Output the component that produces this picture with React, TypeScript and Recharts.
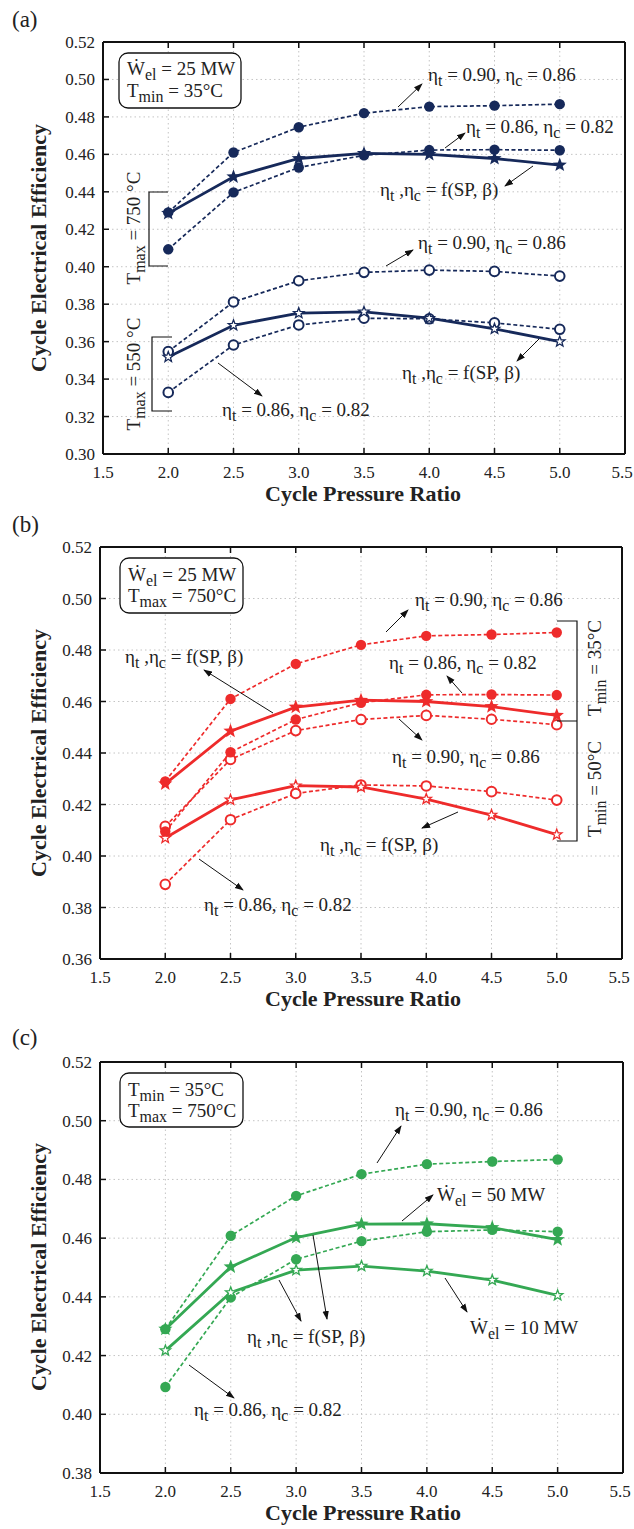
import { LineChart, Line, XAxis, YAxis, CartesianGrid } from "recharts";

document.body.style.margin = "0";

const FONT = '"Liberation Serif", "Times New Roman", Times, serif';

const pressureRatio = [2.0, 2.5, 3.0, 3.5, 4.0, 4.5, 5.0];
const xTicks = [1.5, 2.0, 2.5, 3.0, 3.5, 4.0, 4.5, 5.0, 5.5];

// (a) Tmax = 750 / 550 °C
const yTicksA = [0.3, 0.32, 0.34, 0.36, 0.38, 0.4, 0.42, 0.44, 0.46, 0.48, 0.5, 0.52];
const a750High = [0.429, 0.461, 0.4745, 0.482, 0.4855, 0.486, 0.4868];
const a750Low = [0.4093, 0.4397, 0.453, 0.4595, 0.4623, 0.4625, 0.4622];
const a750Var = [0.4285, 0.448, 0.4578, 0.4605, 0.46, 0.4578, 0.4543];
const a550High = [0.3547, 0.3812, 0.3925, 0.397, 0.3982, 0.3975, 0.395];
const a550Low = [0.3329, 0.3582, 0.3689, 0.3725, 0.3722, 0.37, 0.3666];
const a550Var = [0.3518, 0.3687, 0.3752, 0.3759, 0.3725, 0.3668, 0.36];

// (b) Tmin = 35 / 50 °C
const yTicksB = [0.36, 0.38, 0.4, 0.42, 0.44, 0.46, 0.48, 0.5, 0.52];
const b35High = [0.429, 0.461, 0.4746, 0.482, 0.4855, 0.486, 0.4868];
const b35Low = [0.4095, 0.4403, 0.453, 0.4595, 0.4626, 0.4627, 0.4625];
const b35Var = [0.428, 0.4485, 0.4578, 0.4605, 0.46, 0.458, 0.4546];
const b50High = [0.4115, 0.4375, 0.4487, 0.453, 0.4546, 0.4531, 0.451];
const b50Low = [0.389, 0.4141, 0.4243, 0.4276, 0.4272, 0.425, 0.4217];
const b50Var = [0.407, 0.4218, 0.4273, 0.4268, 0.4221, 0.4159, 0.4083];

// (c) Wel = 50 / 10 MW
const yTicksC = [0.38, 0.4, 0.42, 0.44, 0.46, 0.48, 0.5, 0.52];
const cHigh = [0.429, 0.4608, 0.4744, 0.4818, 0.4852, 0.4861, 0.4868];
const cLow = [0.4093, 0.4398, 0.4528, 0.459, 0.4622, 0.4628, 0.4622];
const c50MW = [0.429, 0.4502, 0.4602, 0.4648, 0.4649, 0.4636, 0.4595];
const c10MW = [0.4217, 0.4415, 0.4491, 0.4505, 0.4488, 0.4457, 0.4405];

const NAVY = "#16295a";
const RED = "#ee2b2b";
const GREEN = "#34a853";

type Series = { key: string; values: number[]; marker: string; dashed: boolean };

const seriesA: Series[] = [
  { key: "a550Low", values: a550Low, marker: "oc", dashed: true },
  { key: "a550High", values: a550High, marker: "oc", dashed: true },
  { key: "a550Var", values: a550Var, marker: "os", dashed: false },
  { key: "a750Low", values: a750Low, marker: "fc", dashed: true },
  { key: "a750High", values: a750High, marker: "fc", dashed: true },
  { key: "a750Var", values: a750Var, marker: "fs", dashed: false },
];
const seriesB: Series[] = [
  { key: "b50Low", values: b50Low, marker: "oc", dashed: true },
  { key: "b50High", values: b50High, marker: "oc", dashed: true },
  { key: "b50Var", values: b50Var, marker: "os", dashed: false },
  { key: "b35Low", values: b35Low, marker: "fc", dashed: true },
  { key: "b35High", values: b35High, marker: "fc", dashed: true },
  { key: "b35Var", values: b35Var, marker: "fs", dashed: false },
];
const seriesC: Series[] = [
  { key: "cLow", values: cLow, marker: "fc", dashed: true },
  { key: "cHigh", values: cHigh, marker: "fc", dashed: true },
  { key: "c10MW", values: c10MW, marker: "os", dashed: false },
  { key: "c50MW", values: c50MW, marker: "fs", dashed: false },
];

function starPath(cx: number, cy: number, r: number) {
  let d = "";
  for (let i = 0; i < 10; i++) {
    const rad = i % 2 === 0 ? r : r * 0.42;
    const a = (-90 + i * 36) * (Math.PI / 180);
    d += (i === 0 ? "M" : "L") + (cx + rad * Math.cos(a)).toFixed(2) + "," + (cy + rad * Math.sin(a)).toFixed(2);
  }
  return d + "Z";
}

function makeDot(kind: string, color: string) {
  return (p: any) => {
    const { cx, cy, index } = p;
    if (cx == null || cy == null) return <g key={index} />;
    if (kind === "fc") return <circle key={index} cx={cx} cy={cy} r={5.2} fill={color} />;
    if (kind === "oc")
      return <circle key={index} cx={cx} cy={cy} r={4.8} fill="#fff" stroke={color} strokeWidth={2} />;
    if (kind === "fs") return <path key={index} d={starPath(cx, cy, 7.5)} fill={color} />;
    return <path key={index} d={starPath(cx, cy, 5.5)} fill="#fff" stroke={color} strokeWidth={1.3} />;
  };
}

const tickText = { fontFamily: FONT, fontSize: 17, fill: "#222", style: { fontFamily: FONT } };

const bottomTick = (p: any) => {
  const v = Number(p.payload.value);
  // the last label sits on the page edge, nudge it in a little
  const tx = v >= 5.5 ? p.x - 3 : p.x;
  return (
    <g key={`b${p.index}`}>
      <line x1={p.x} y1={p.y} x2={p.x} y2={p.y - 6} stroke="#111" strokeWidth={1.5} />
      <text x={tx} y={p.y + 24} textAnchor="middle" {...tickText}>
        {v.toFixed(1)}
      </text>
    </g>
  );
};
const topTick = (p: any) => (
  <line key={`t${p.index}`} x1={p.x} y1={p.y} x2={p.x} y2={p.y + 6} stroke="#111" strokeWidth={1.5} />
);
const leftTick = (p: any) => (
  <g key={`l${p.index}`}>
    <line x1={p.x} y1={p.y} x2={p.x + 6} y2={p.y} stroke="#111" strokeWidth={1.5} />
    <text x={p.x - 8} y={p.y + 6} textAnchor="end" {...tickText}>
      {Number(p.payload.value).toFixed(2)}
    </text>
  </g>
);
const rightTick = (p: any) => (
  <line key={`r${p.index}`} x1={p.x} y1={p.y} x2={p.x - 6} y2={p.y} stroke="#111" strokeWidth={1.5} />
);

// plot box in chart coords: left, right, top, bottom
function Panel({
  top,
  series,
  yTicks,
  color,
  box,
}: {
  top: number;
  series: Series[];
  yTicks: number[];
  color: string;
  box: { l: number; r: number; t: number; b: number };
}) {
  const rows = pressureRatio.map((x, i) => {
    const r: any = { x };
    series.forEach((s) => (r[s.key] = s.values[i]));
    return r;
  });
  const W = 634;
  const H = 505;
  const margin = { top: box.t - 2, right: W - box.r - 2, bottom: H - box.b - 30, left: box.l - 60 };
  const yDomain = [yTicks[0], yTicks[yTicks.length - 1]];
  const frame = { stroke: "#111", strokeWidth: 2 };
  return (
    <div style={{ position: "absolute", left: 0, top }}>
      <LineChart width={W} height={H} data={rows} margin={margin}>
        <CartesianGrid stroke="#c4c4c4" strokeDasharray="1.5 3" />
        <XAxis
          dataKey="x"
          type="number"
          domain={[1.5, 5.5]}
          ticks={xTicks}
          interval={0}
          height={30}
          tickSize={0}
          tickMargin={0}
          tickLine={false}
          axisLine={frame}
          tick={bottomTick}
          allowDataOverflow
        />
        <XAxis
          xAxisId="top"
          orientation="top"
          dataKey="x"
          type="number"
          domain={[1.5, 5.5]}
          ticks={xTicks}
          interval={0}
          height={2}
          tickSize={0}
          tickMargin={0}
          tickLine={false}
          axisLine={frame}
          tick={topTick}
        />
        <YAxis
          type="number"
          domain={yDomain}
          ticks={yTicks}
          interval={0}
          width={60}
          tickSize={0}
          tickMargin={0}
          tickLine={false}
          axisLine={frame}
          tick={leftTick}
          allowDataOverflow
        />
        <YAxis
          yAxisId="right"
          orientation="right"
          type="number"
          domain={yDomain}
          ticks={yTicks}
          interval={0}
          width={2}
          tickSize={0}
          tickMargin={0}
          tickLine={false}
          axisLine={frame}
          tick={rightTick}
        />
        {series.map((s) => (
          <Line
            key={s.key}
            type="linear"
            dataKey={s.key}
            stroke={color}
            strokeWidth={s.dashed ? 1.7 : 2.8}
            strokeDasharray={s.dashed ? "4 2.5" : undefined}
            dot={makeDot(s.marker, color)}
            activeDot={false}
            isAnimationActive={false}
          />
        ))}
      </LineChart>
    </div>
  );
}

// Rich text with "_sub" subscripts
function Rich({
  x,
  y,
  t,
  size = 19,
  rotate = false,
  anchor = "start",
}: {
  x: number;
  y: number;
  t: string;
  size?: number;
  rotate?: boolean;
  anchor?: string;
}) {
  const parts = t.split(/(_[a-z]+)/).filter((s) => s.length > 0);
  const shift = size * 0.28;
  let prevSub = false;
  return (
    <text
      x={x}
      y={y}
      fontFamily={FONT}
      fontSize={size}
      fill="#222"
      textAnchor={anchor as any}
      transform={rotate ? `rotate(-90 ${x} ${y})` : undefined}
    >
      {parts.map((p, i) => {
        if (p.startsWith("_")) {
          prevSub = true;
          return (
            <tspan key={i} dy={shift} fontSize={size * 0.84}>
              {p.slice(1)}
            </tspan>
          );
        }
        const dy = prevSub ? -shift : 0;
        prevSub = false;
        return (
          <tspan key={i} dy={dy}>
            {p}
          </tspan>
        );
      })}
    </text>
  );
}

const notes = [
  // (a)
  { x: 428, y: 81, t: "η_t = 0.90, η_c = 0.86" },
  { x: 466, y: 133, t: "η_t = 0.86, η_c = 0.82" },
  { x: 380, y: 196, t: "η_t ,η_c = f(SP, β)" },
  { x: 418, y: 249, t: "η_t = 0.90, η_c = 0.86" },
  { x: 402, y: 379, t: "η_t ,η_c = f(SP, β)" },
  { x: 222, y: 416, t: "η_t = 0.86, η_c = 0.82" },
  // (b)
  { x: 125, y: 663, t: "η_t ,η_c = f(SP, β)" },
  { x: 415, y: 606, t: "η_t = 0.90, η_c = 0.86" },
  { x: 389, y: 669, t: "η_t = 0.86, η_c = 0.82" },
  { x: 392, y: 763, t: "η_t = 0.90, η_c = 0.86" },
  { x: 320, y: 851, t: "η_t ,η_c = f(SP, β)" },
  { x: 204, y: 911, t: "η_t = 0.86, η_c = 0.82" },
  // (c)
  { x: 395, y: 1116, t: "η_t = 0.90, η_c = 0.86" },
  { x: 437, y: 1201, t: "Ẇ_el = 50 MW" },
  { x: 247, y: 1343, t: "η_t ,η_c = f(SP, β)" },
  { x: 470, y: 1334, t: "Ẇ_el = 10 MW" },
  { x: 194, y: 1416, t: "η_t = 0.86, η_c = 0.82" },
];

const arrows = [
  [398, 107, 422, 84],
  [445, 148, 465, 133],
  [533, 166, 505, 186],
  [386, 266, 413, 250],
  [539, 339, 517, 361],
  [218, 363, 262, 396],
  [273, 713, 204, 670],
  [386, 632, 408, 610],
  [462, 693, 447, 676],
  [399, 719, 422, 740],
  [458, 812, 422, 828],
  [199, 859, 243, 890],
  [377, 1163, 401, 1126],
  [402, 1221, 433, 1195],
  [279, 1280, 301, 1321],
  [313, 1235, 327, 1319],
  [445, 1278, 467, 1312],
  [189, 1365, 234, 1398],
];

const boxes = [
  { x: 119, y: 53, w: 122, h: 55, l1: "Ẇ_el = 25 MW", l2: "T_min = 35°C", b1: 75, b2: 97 },
  { x: 120, y: 558, w: 123, h: 55, l1: "Ẇ_el = 25 MW", l2: "T_max = 750°C", b1: 581, b2: 602 },
  { x: 120, y: 1073, w: 123, h: 54, l1: "T_min = 35°C", l2: "T_max = 750°C", b1: 1096, b2: 1117 },
];

const brackets = [
  "M168,192 L149,192 L149,266 L168,266",
  "M172,337 L152,337 L152,411 L172,411",
  "M557,621 L577,621 L577,841 L557,841 M557,721 L577,721",
];

const sideLabels = [
  { x: 140, y: 228, t: "T_max = 750 °C" },
  { x: 140, y: 374, t: "T_max = 550 °C" },
  { x: 601, y: 668, t: "T_min = 35°C" },
  { x: 601, y: 789, t: "T_min = 50°C" },
];

const panelTops = [0, 505, 1020];
const plotCenters = [248, 753, 1267];
const plotBottoms = [454, 959, 1473];
const panelLetters = [
  { t: "(a)", y: 27 },
  { t: "(b)", y: 532 },
  { t: "(c)", y: 1045 },
];

export default function App() {
  return (
    <div style={{ position: "relative", width: 634, height: 1529, background: "#fff" }}>
      <Panel top={panelTops[0]} series={seriesA} yTicks={yTicksA} color={NAVY} box={{ l: 103, r: 625, t: 42, b: 454 }} />
      <Panel top={panelTops[1]} series={seriesB} yTicks={yTicksB} color={RED} box={{ l: 100, r: 622, t: 42, b: 454 }} />
      <Panel top={panelTops[2]} series={seriesC} yTicks={yTicksC} color={GREEN} box={{ l: 100, r: 623, t: 42, b: 453 }} />
      <svg
        width={634}
        height={1529}
        style={{ position: "absolute", left: 0, top: 0, pointerEvents: "none" }}
      >
        <defs>
          <marker id="arr" markerWidth={9} markerHeight={8} refX={8} refY={4} orient="auto" markerUnits="userSpaceOnUse">
            <path d="M0,0.8 L9,4 L0,7.2 Z" fill="#111" />
          </marker>
        </defs>
        {panelLetters.map((p) => (
          <text key={p.t} x={12} y={p.y} fontFamily={FONT} fontSize={23} fill="#222">
            {p.t}
          </text>
        ))}
        {plotCenters.map((c, i) => (
          <text
            key={`yt${i}`}
            x={46}
            y={c}
            fontFamily={FONT}
            fontSize={22}
            fontWeight="bold"
            fill="#222"
            textAnchor="middle"
            transform={`rotate(-90 46 ${c})`}
          >
            Cycle Electrical Efficiency
          </text>
        ))}
        {plotBottoms.map((b, i) => (
          <text
            key={`xt${i}`}
            x={363}
            y={b + 47}
            fontFamily={FONT}
            fontSize={22}
            fontWeight="bold"
            fill="#222"
            textAnchor="middle"
          >
            Cycle Pressure Ratio
          </text>
        ))}
        {boxes.map((b, i) => (
          <g key={`box${i}`}>
            <rect x={b.x} y={b.y} width={b.w} height={b.h} rx={9} fill="#fff" stroke="#111" strokeWidth={1.3} />
            <Rich x={b.x + 8} y={b.b1} t={b.l1} />
            <Rich x={b.x + 8} y={b.b2} t={b.l2} />
          </g>
        ))}
        {brackets.map((d, i) => (
          <path key={`br${i}`} d={d} fill="none" stroke="#111" strokeWidth={1.2} />
        ))}
        {sideLabels.map((s, i) => (
          <Rich key={`sl${i}`} x={s.x} y={s.y} t={s.t} rotate anchor="middle" />
        ))}
        {arrows.map((a, i) => (
          <line key={`ar${i}`} x1={a[0]} y1={a[1]} x2={a[2]} y2={a[3]} stroke="#111" strokeWidth={1} markerEnd="url(#arr)" />
        ))}
        {notes.map((n, i) => (
          <Rich key={`n${i}`} x={n.x} y={n.y} t={n.t} />
        ))}
      </svg>
    </div>
  );
}
